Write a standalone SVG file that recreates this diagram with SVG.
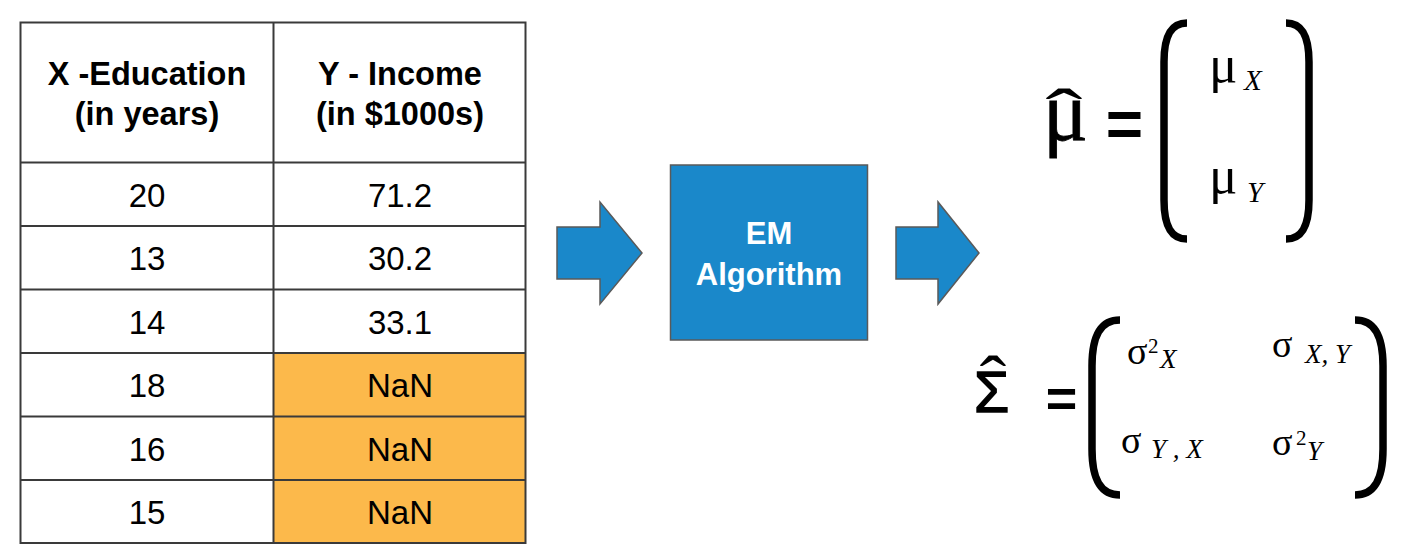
<svg xmlns="http://www.w3.org/2000/svg" width="1420" height="558" viewBox="0 0 1420 558">
<style>
.hd{font-family:"Liberation Sans",Arial,sans-serif;font-weight:bold;font-size:32.5px;fill:#000;text-anchor:middle}
.num{font-family:"Liberation Sans",Arial,sans-serif;font-size:33px;fill:#000;text-anchor:middle}
.grid{stroke:#3a3a3a;stroke-width:2;fill:none}
.blue{fill:#1a88ca;stroke:#5a5a5a;stroke-width:1.5}
.boxt{font-family:"Liberation Sans",Arial,sans-serif;font-weight:bold;font-size:31px;fill:#fff;text-anchor:middle}
.m{font-family:"Liberation Serif","Times New Roman",serif;fill:#000}
.sub{font-family:"Liberation Serif","Times New Roman",serif;font-style:italic;fill:#000;font-size:29px}
.eq{font-family:"Liberation Sans",Arial,sans-serif;font-weight:bold;fill:#000;text-anchor:middle}
.br{fill:none;stroke:#000;stroke-width:7.5}
</style>
<rect width="1420" height="558" fill="#fff"/>
<g id="table">
<rect x="274" y="353" width="252" height="190" fill="#fcb94b"/>
<rect x="20.5" y="22.5" width="505" height="520.5" class="grid"/>
<line x1="273.5" y1="22" x2="273.5" y2="543" class="grid"/>
<line x1="20" y1="162.5" x2="526" y2="162.5" class="grid"/>
<line x1="20" y1="226" x2="526" y2="226" class="grid"/>
<line x1="20" y1="289.5" x2="526" y2="289.5" class="grid"/>
<line x1="20" y1="353" x2="526" y2="353" class="grid"/>
<line x1="20" y1="416.5" x2="526" y2="416.5" class="grid"/>
<line x1="20" y1="480" x2="526" y2="480" class="grid"/>
<text class="hd" x="147" y="85">X -Education</text>
<text class="hd" x="147" y="125">(in years)</text>
<text class="hd" x="400" y="85">Y - Income</text>
<text class="hd" x="400" y="125">(in $1000s)</text>
<text class="num" x="147" y="207">20</text><text class="num" x="400" y="207">71.2</text>
<text class="num" x="147" y="270">13</text><text class="num" x="400" y="270">30.2</text>
<text class="num" x="147" y="334">14</text><text class="num" x="400" y="334">33.1</text>
<text class="num" x="147" y="397">18</text><text class="num" x="400" y="397">NaN</text>
<text class="num" x="147" y="461">16</text><text class="num" x="400" y="461">NaN</text>
<text class="num" x="147" y="524">15</text><text class="num" x="400" y="524">NaN</text>
</g>
<g id="connectors">
<path class="blue" d="M557,227 H600 V202 L642,253 L600,304 V279 H557 Z"/>
<path class="blue" d="M896,227 H938 V202 L979,253 L938,304 V279 H896 Z"/>
</g>
<g id="em-box">
<rect class="blue" x="670.5" y="165" width="197" height="175"/>
<text class="boxt" x="769" y="244">EM</text>
<text class="boxt" x="769" y="285">Algorithm</text>
</g>
<g id="mu-hat">
<text class="m" x="1043" y="140" font-size="84" stroke="#000" stroke-width="0.8">μ</text>
<text class="m" x="0" y="137" font-size="70" text-anchor="middle" transform="translate(1064,0) scale(1.6,1)">ˆ</text>
<text class="eq" x="1124.5" y="146" font-size="64">=</text>
<path class="br" d="M1187,23 C1171,23 1164,36 1164,62 V200 C1164,226 1171,239 1187,239"/>
<path class="br" d="M1286,23 C1302,23 1309,36 1309,62 V200 C1309,226 1302,239 1286,239"/>
<text class="m" x="1209" y="82" font-size="53">μ</text>
<text class="sub" x="1244" y="90">X</text>
<text class="m" x="1209" y="193" font-size="53">μ</text>
<text class="sub" x="1247" y="202">Y</text>
</g>
<g id="sigma-hat">
<text x="974" y="412" font-size="57" font-family="Liberation Sans,Arial,sans-serif" stroke="#000" stroke-width="1.4">Σ</text>
<text class="m" x="0" y="404" font-size="70" text-anchor="middle" transform="translate(993,0) scale(1.15,1)">ˆ</text>
<text class="eq" x="1061.5" y="417" font-size="54">=</text>
<path class="br" d="M1120,320 C1100,320 1092,336 1092,366 V449 C1092,479 1100,495 1120,495"/>
<path class="br" d="M1355,320 C1375,320 1383,336 1383,366 V449 C1383,479 1375,495 1355,495"/>
<text class="m" x="1127" y="364" font-size="38">σ</text>
<text class="m" x="1148" y="353" font-size="21">2</text>
<text class="sub" x="1160" y="368" style="font-size:27px">X</text>
<text class="m" x="1272" y="357" font-size="38">σ</text>
<text class="sub" x="1305" y="363" style="font-size:27px">X, Y</text>
<text class="m" x="1121" y="453" font-size="38">σ</text>
<text class="sub" x="1151" y="458" style="font-size:27px">Y , X</text>
<text class="m" x="1272" y="455" font-size="38">σ</text>
<text class="m" x="1296" y="445" font-size="21">2</text>
<text class="sub" x="1307" y="460" style="font-size:27px">Y</text>
</g>
</svg>
